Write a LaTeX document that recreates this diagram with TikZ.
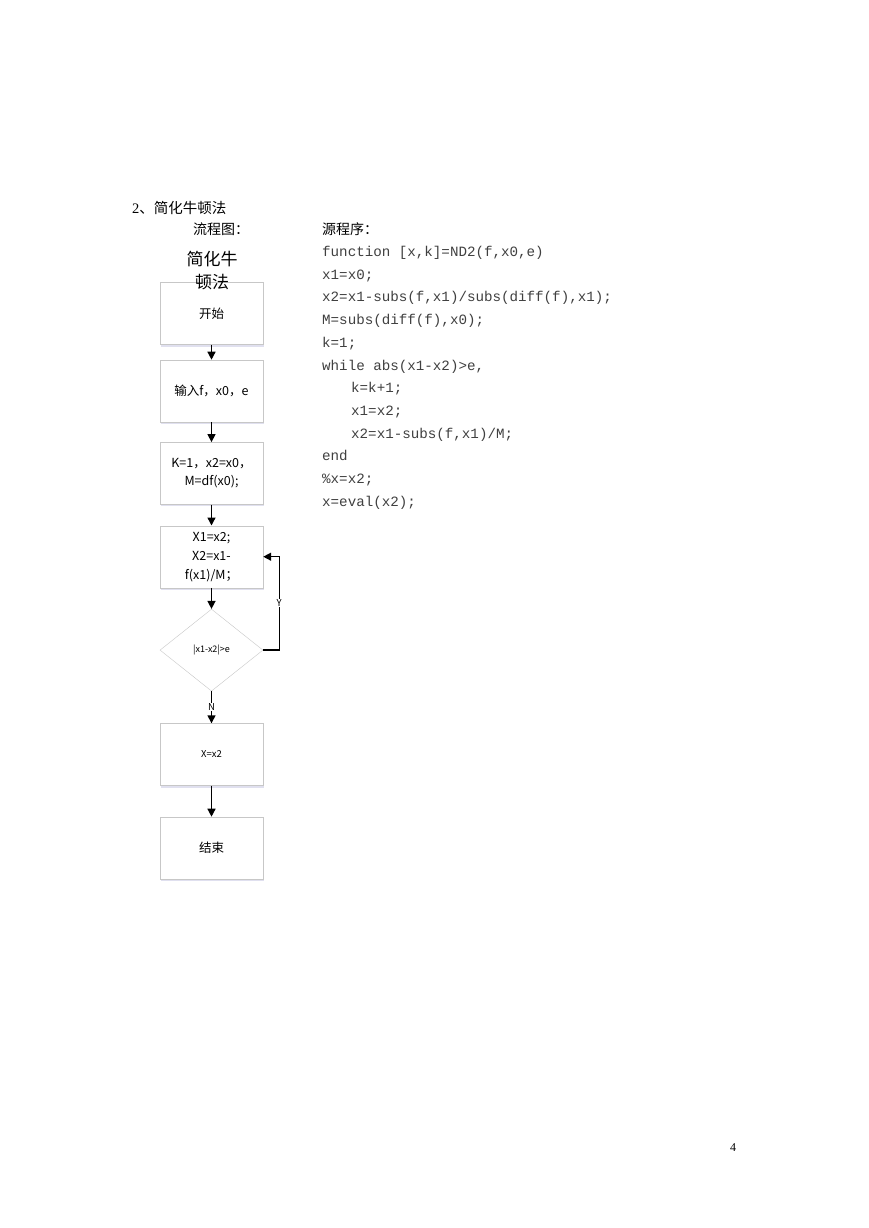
\documentclass[tikz,border=0pt]{standalone}
\usepackage{fontspec}
\setmainfont{Liberation Serif}
\setmonofont{Liberation Mono}
\newfontfamily\cjk{Noto Sans CJK SC}
\usetikzlibrary{positioning,shapes.geometric,arrows.meta,shadows}

\begin{document}
\begin{tikzpicture}[x=1pt,y=-1pt,
    stepbox/.style={rectangle, draw=black!22, fill=white, minimum width=103pt, minimum height=62pt, inner sep=2pt, align=center, font=\cjk\fontsize{12.5}{18}\selectfont,
        drop shadow={shadow xshift=1.2pt, shadow yshift=-2pt, fill=blue!50!black!20, opacity=0.6}},
    test/.style={diamond, draw=black!22, fill=white, minimum width=103pt, minimum height=82pt, inner sep=0pt, font=\cjk\fontsize{9}{10}\selectfont},
    flow/.style={-{Triangle[length=8pt,width=8pt]}, line width=1.4pt},
    tag/.style={fill=white, inner sep=0.6pt, font=\cjk\fontsize{9.5}{10}\selectfont},
    code/.style={anchor=base west, inner sep=0pt, text=black!75, font=\ttfamily\fontsize{14.2}{17}\selectfont},
    every node/.style={node distance=2.5em}
    ]
    \useasboundingbox[fill=white] (0,0) rectangle (869,1228);

    % page headings
    \node[anchor=west, inner sep=0pt, font=\fontsize{14.5}{17}\selectfont] (title) at (132,208) {2{\cjk 、简化牛顿法}};
    \node[anchor=west, inner sep=0pt, font=\cjk\fontsize{14}{17}\selectfont] (chart) at (193,229) {流程图：};
    \node[anchor=west, inner sep=0pt, font=\cjk\fontsize{14}{17}\selectfont] (source) at (322,229) {源程序：};

    % flow chart
    \node[stepbox] (start) at (211.5,313.5) {开始};
    \node[stepbox, below=15pt of start] (input) {输入f，x0，e};
    \node[stepbox, below=20pt of input] (init) {K=1，x2=x0，\\M=df(x0);};
    \node[stepbox, below=21pt of init, font=\cjk\fontsize{12.5}{19}\selectfont] (iter) {X1=x2;\\X2=x1-\\f(x1)/M；};
    \node[test, below=21pt of iter] (check) {|x1-x2|>e};
    \node[stepbox, below=32pt of check, font=\cjk\fontsize{9.5}{11}\selectfont] (result) {X=x2};
    \node[stepbox, below=31pt of result] (stop) {结束};

    \node[align=center, inner sep=0pt, font=\cjk\fontsize{17}{23}\selectfont] (name) at (212,271) {简化牛\\顿法};

    \draw[flow] (start) -- (input);
    \draw[flow] (input) -- (init);
    \draw[flow] (init) -- (iter);
    \draw[flow] (iter) -- (check);
    \draw[flow] (check) -- node[tag, pos=0.5] {N} (result);
    \draw[flow] (result) -- (stop);
    \draw[flow] (check.east) -- ++(16,0) |- node[tag, pos=0.25] {Y} (iter.east);

    % source code
    \foreach \ln [count=\i] in {{function [x,k]=ND2(f,x0,e)}, {x1=x0;},
        {x2=x1-subs(f,x1)/subs(diff(f),x1);}, {M=subs(diff(f),x0);}, {k=1;},
        {while abs(x1-x2)>e,}, {\hspace*{29pt}k=k+1;}, {\hspace*{29pt}x1=x2;},
        {\hspace*{29pt}x2=x1-subs(f,x1)/M;}, {end}, {\%x=x2;}, {x=eval(x2);}} {
        \node[code] (code\i) at (322,{256.5+22.7*(\i-1)}) {\ln};
    }

    \node[inner sep=0pt, font=\fontsize{12}{14}\selectfont] (page) at (733,1148) {4};
\end{tikzpicture}
\end{document}
